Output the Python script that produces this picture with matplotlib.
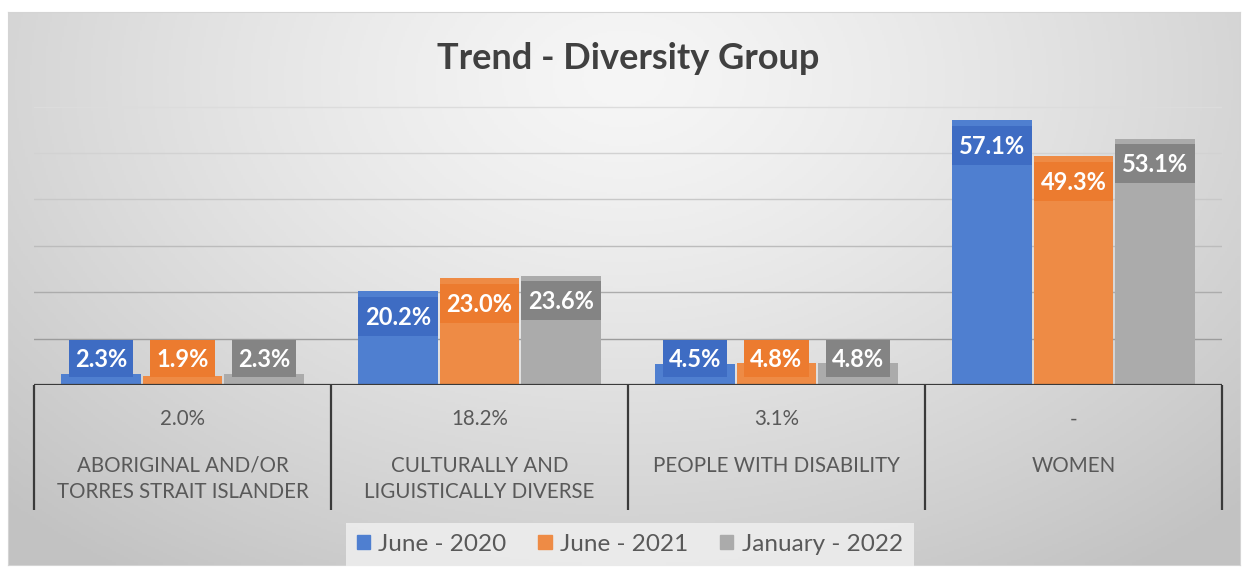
import numpy as np
import matplotlib
matplotlib.use('Agg')
import matplotlib.pyplot as plt
from matplotlib.patches import Patch, Rectangle

plt.rcParams['font.family'] = ['Lato', 'DejaVu Sans']

# ── data ──────────────────────────────────────────────────────────────────────
categories = [
    'ABORIGINAL AND/OR\nTORRES STRAIT ISLANDER',
    'CULTURALLY AND\nLIGUISTICALLY DIVERSE',
    'PEOPLE WITH DISABILITY',
    'WOMEN',
]
benchmarks = ['2.0%', '18.2%', '3.1%', '-']
series = ['June - 2020', 'June - 2021', 'January - 2022']
june_2020 = [2.3, 20.2, 4.5, 57.1]
june_2021 = [1.9, 23.0, 4.8, 49.3]
jan_2022 = [2.3, 23.6, 4.8, 53.1]

bar_colors = ['#4f7fd0', '#ee8b45', '#ababab']
label_colors = ['#3e6cc3', '#ec7b2f', '#848484']
text_grey = '#595959'

W, H = 1247, 571
fig = plt.figure(figsize=(W / 100, H / 100), dpi=100)
fig.patch.set_facecolor('white')

# ── chart area background: soft radial grey gradient ──────────────────────────
bg = fig.add_axes([8 / W, 6 / H, 1232 / W, 553 / H], zorder=0)
yy, xx = np.mgrid[0:1:300j, 0:1:600j]
r = np.sqrt(((xx - 0.5) / 0.72) ** 2 + ((yy - 0.12) / 1.1) ** 2)
shade = 246 - 52 * np.clip(r, 0, 1) ** 1.3
bg.imshow(np.dstack([shade] * 3).astype(np.uint8), aspect='auto',
          extent=(0, 1, 1, 0), interpolation='bilinear')
bg.set_xticks([])
bg.set_yticks([])
for s in bg.spines.values():
    s.set_color('#d4d4d4')

# ── main plot ─────────────────────────────────────────────────────────────────
ax = fig.add_axes([34 / W, 186 / H, 1188 / W, 283 / H], zorder=1)
ax.set_facecolor('none')
ax.set_xlim(-0.5, len(categories) - 0.5)
ax.set_ylim(0, 61)

# gridlines fade out towards the top, like the original
for gy, gc in zip(range(10, 61, 10),
                  ['#9c9c9c', '#acacac', '#bcbcbc', '#c8c8c8', '#d2d2d2', '#dcdcdc']):
    ax.axhline(gy, color=gc, lw=1, zorder=1)

x = np.arange(len(categories))
bar_w = 0.268
step = 0.275
for i, vals in enumerate([june_2020, june_2021, jan_2022]):
    xs = x + (i - 1) * step
    ax.bar(xs, vals, width=bar_w, color=bar_colors[i], zorder=2)
    for xi, v in zip(xs, vals):
        lab = f'{v:.1f}%'
        bw = bar_w if len(lab) > 4 else bar_w * 0.81
        if v < 10:
            y0, y1 = 1.7, 9.7
        else:
            y0, y1 = v - 9.6, v - 1.2
        ax.add_patch(Rectangle((xi - bw / 2, y0), bw, y1 - y0,
                               color=label_colors[i], zorder=3, lw=0))
        ax.text(xi, (y0 + y1) / 2 - 0.2, lab, ha='center', va='center',
                color='white', fontsize=17, fontweight='bold', zorder=4)

# category table under the axis
ax.axhline(0, color='#3a3a3a', lw=1.6, zorder=5)
ax.vlines(np.arange(len(categories) + 1) - 0.5, -27, 0, color='#3a3a3a',
          lw=1.6, clip_on=False, zorder=5)
for xi, b, c in zip(x, benchmarks, categories):
    ax.text(xi, -7.4, b, ha='center', va='center', color=text_grey,
            fontsize=14.8, clip_on=False)
    ax.text(xi, -15.3, c, ha='center', va='top', color=text_grey,
            fontsize=14.8, linespacing=1.4, clip_on=False)

ax.set_xticks([])
ax.set_yticks([])
for s in ax.spines.values():
    s.set_visible(False)

fig.text(0.504, 0.897, 'Trend - Diversity Group', ha='center', va='center',
         fontsize=26, fontweight='bold', color='#404040')

handles = [Patch(color=c) for c in bar_colors]
leg = fig.legend(handles, series, loc='center', bbox_to_anchor=(0.505, 0.047),
                 ncol=3, frameon=True, fontsize=17.5, handlelength=0.55,
                 handleheight=0.55, handletextpad=0.35, columnspacing=1.3,
                 borderpad=0.45, borderaxespad=0, fancybox=False)
leg.get_frame().set_facecolor('#efefef')
leg.get_frame().set_edgecolor('none')
leg.get_frame().set_alpha(0.85)
for t in leg.get_texts():
    t.set_color(text_grey)

fig.savefig('out.png', dpi=100)
